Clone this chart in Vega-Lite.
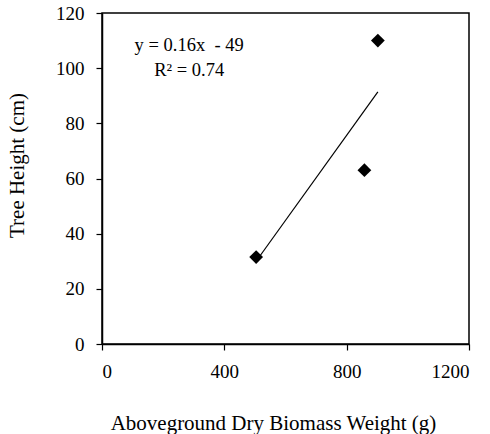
{
  "$schema": "https://vega.github.io/schema/vega-lite/v6.json",
  "autosize": "none",
  "width": 367,
  "height": 331,
  "padding": {"left": 102, "top": 13, "right": 21, "bottom": 90},
  "background": "white",
  "config": {
    "view": {"stroke": "black", "strokeWidth": 1.5},
    "font": "Liberation Serif"
  },
  "datasets": {
    "pts": [
      {"x": 504, "y": 31.5},
      {"x": 858, "y": 63},
      {"x": 902, "y": 110}
    ],
    "fit": [
      {"x": 504, "y": 30},
      {"x": 902, "y": 91.4}
    ],
    "labels": [
      {"x": 285, "y": 108.5, "t": "y = 0.16x\u00a0 - 49"},
      {"x": 285, "y": 99.3, "t": "R² = 0.74"}
    ]
  },
  "layer": [
    {
      "data": {"name": "fit"},
      "mark": {"type": "line", "color": "black", "strokeWidth": 1.2},
      "encoding": {
        "x": {
          "field": "x", "type": "quantitative",
          "scale": {"domain": [0, 1200], "nice": false},
          "axis": {
            "values": [0, 400, 800, 1200], "format": "d",
            "title": "Aboveground Dry Biomass Weight (g)",
            "titleFont": "Liberation Serif", "titleFontSize": 21, "titleFontWeight": "normal",
            "titleColor": "black", "titlePadding": 31, "titleX": 171,
            "labelFont": "Liberation Serif", "labelFontSize": 19, "labelColor": "black",
            "labelPadding": 12, "tickSize": 6, "tickColor": "black", "domainColor": "black",
            "domainWidth": 1.5, "tickWidth": 1.2, "grid": false
          }
        },
        "y": {
          "field": "y", "type": "quantitative",
          "scale": {"domain": [0, 120], "nice": false},
          "axis": {
            "values": [0, 20, 40, 60, 80, 100, 120],
            "title": "Tree Height (cm)",
            "titleFont": "Liberation Serif", "titleFontSize": 21, "titleFontWeight": "normal",
            "titleColor": "black", "titlePadding": 28, "titleY": 152,
            "labelFont": "Liberation Serif", "labelFontSize": 19, "labelColor": "black",
            "labelPadding": 12, "tickSize": 6, "tickColor": "black", "domainColor": "black",
            "domainWidth": 1.5, "tickWidth": 1.2, "grid": false
          }
        }
      }
    },
    {
      "data": {"name": "pts"},
      "mark": {"type": "point", "shape": "diamond", "filled": true, "color": "black", "opacity": 1, "size": 190},
      "encoding": {
        "x": {"field": "x", "type": "quantitative"},
        "y": {"field": "y", "type": "quantitative"}
      }
    },
    {
      "data": {"name": "labels"},
      "mark": {"type": "text", "font": "Liberation Serif", "fontSize": 18.5, "color": "black", "align": "center", "baseline": "middle"},
      "encoding": {
        "x": {"field": "x", "type": "quantitative"},
        "y": {"field": "y", "type": "quantitative"},
        "text": {"field": "t"}
      }
    }
  ]
}
